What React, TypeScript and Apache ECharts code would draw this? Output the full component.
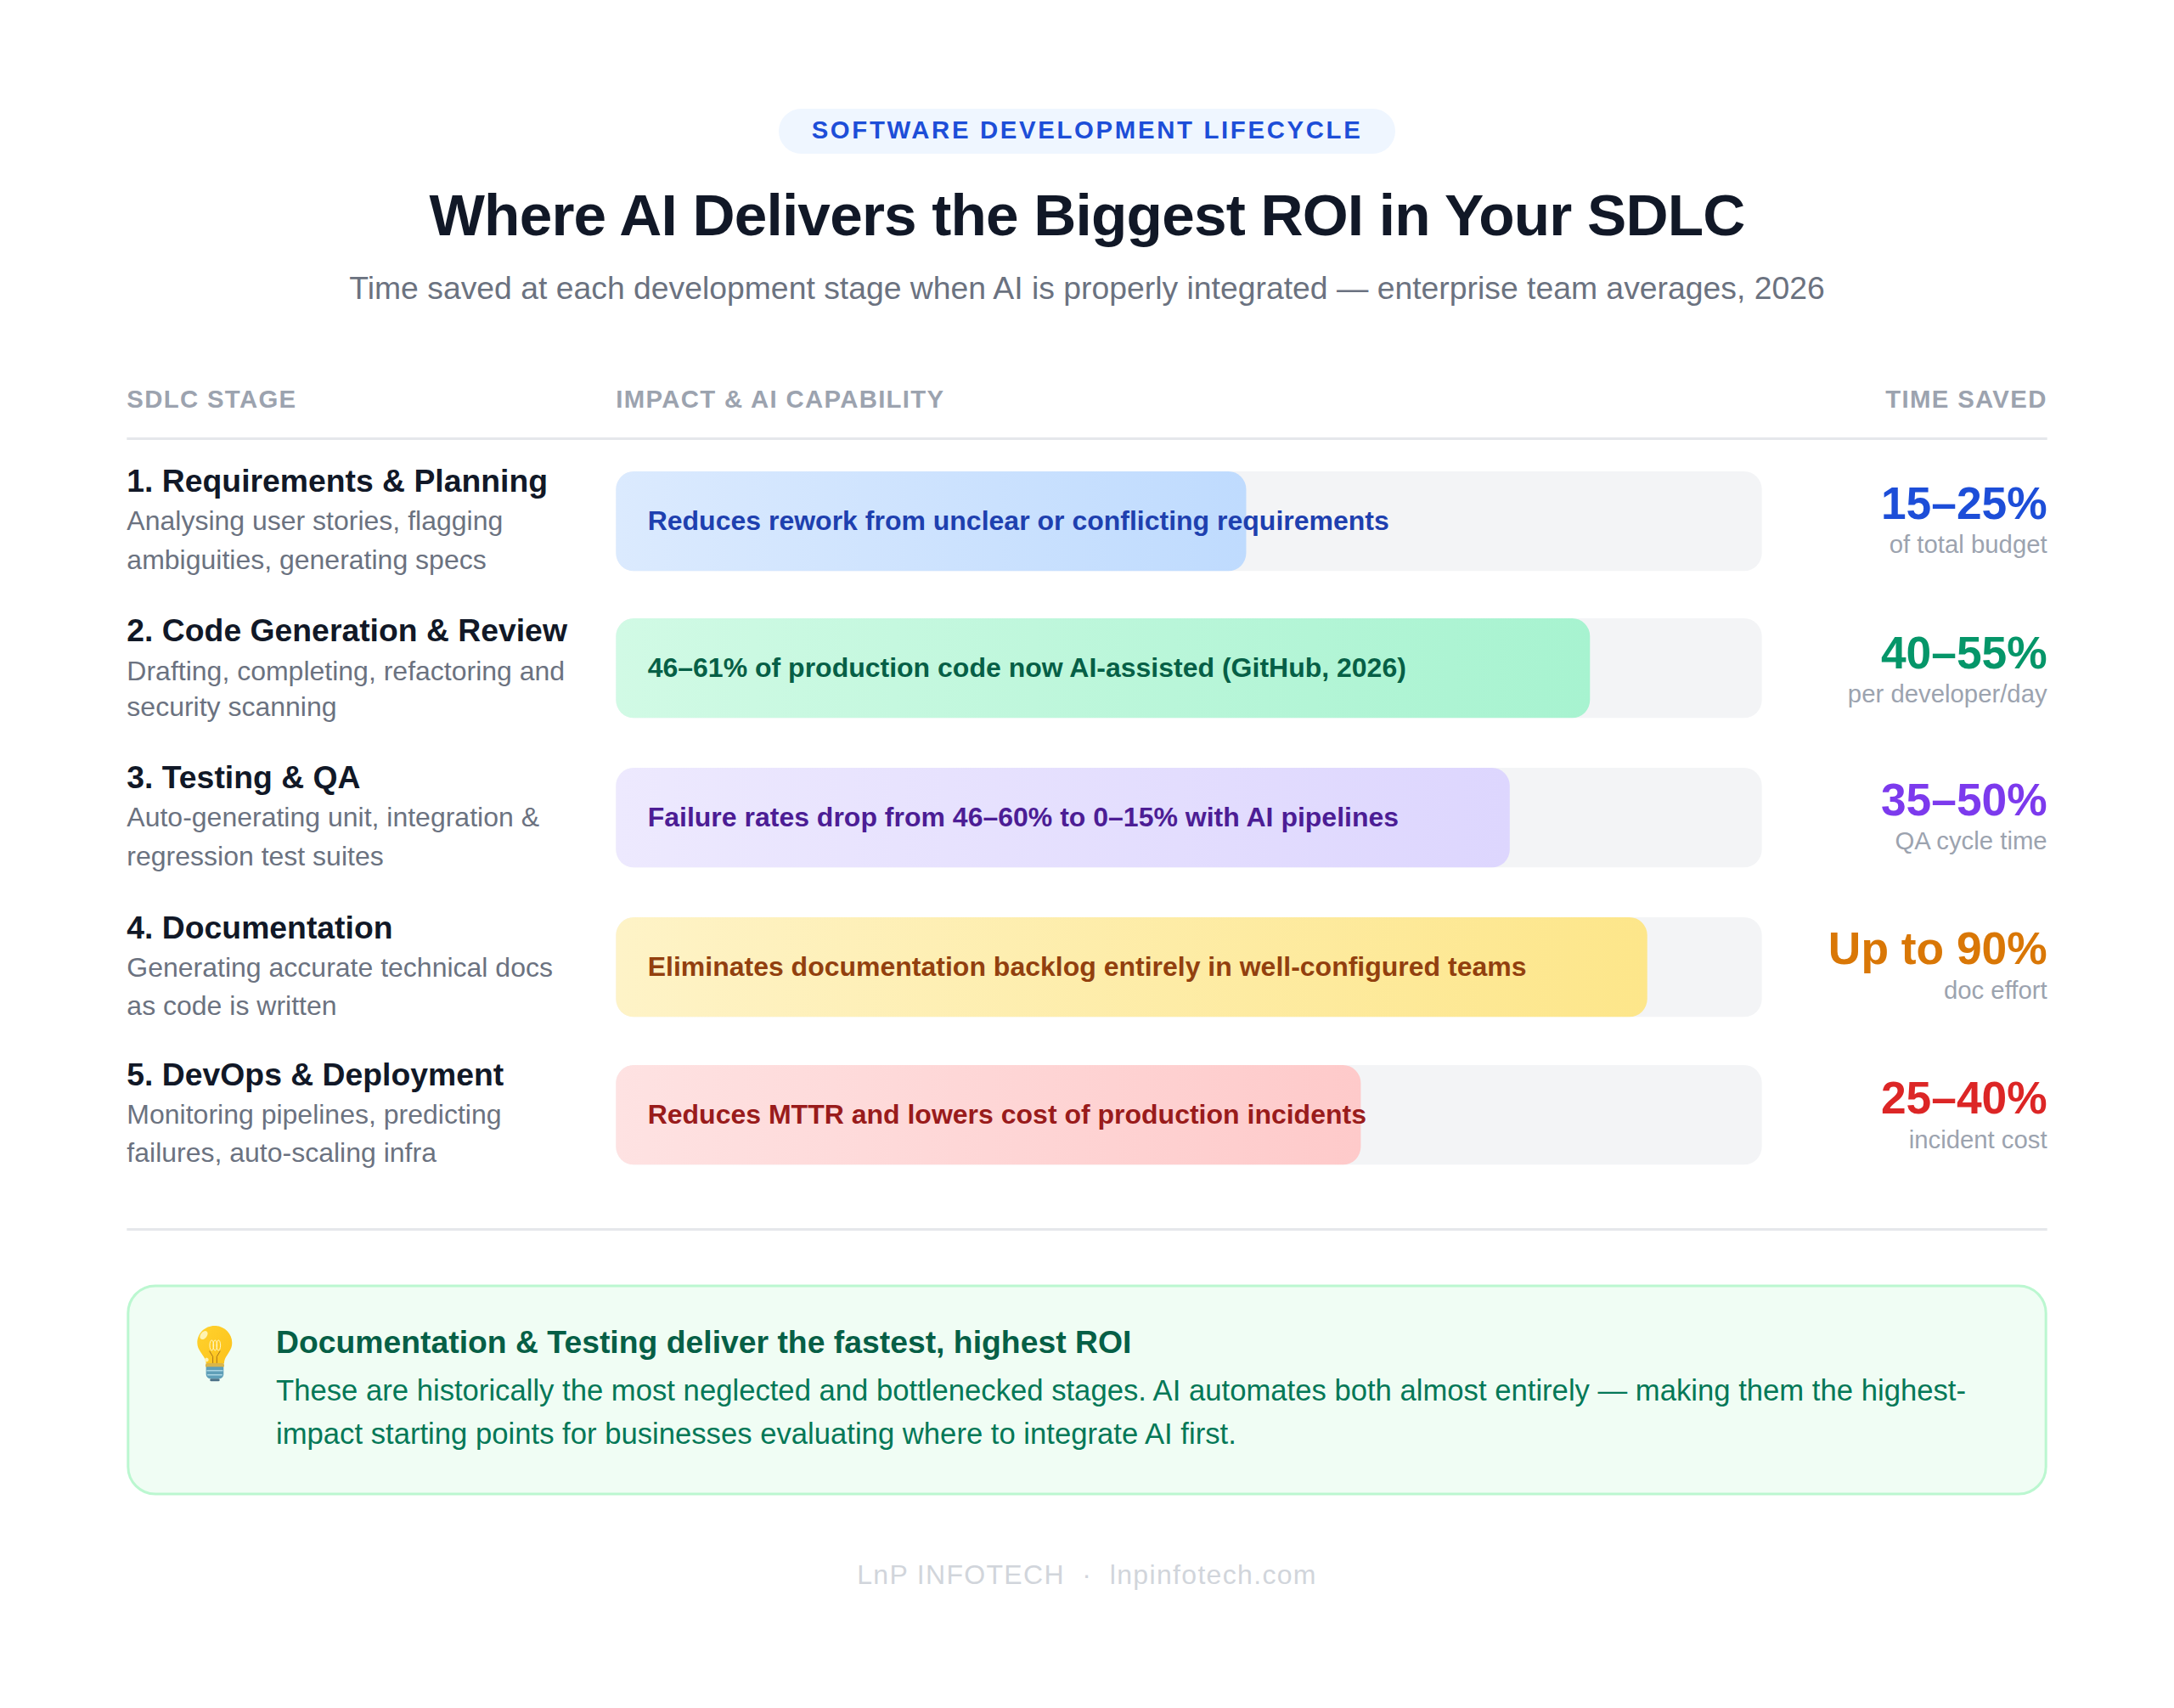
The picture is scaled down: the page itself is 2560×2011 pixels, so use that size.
import { useEffect, useRef } from "react";
import * as echarts from "echarts";

const FONT = '"Liberation Sans", Arial, sans-serif';

const stages = [
  "1. Requirements & Planning",
  "2. Code Generation & Review",
  "3. Testing & QA",
  "4. Documentation",
  "5. DevOps & Deployment",
];
const stageDescriptions = [
  ["Analysing user stories, flagging", "ambiguities, generating specs"],
  ["Drafting, completing, refactoring and", "security scanning"],
  ["Auto-generating unit, integration &", "regression test suites"],
  ["Generating accurate technical docs", "as code is written"],
  ["Monitoring pipelines, predicting", "failures, auto-scaling infra"],
];
const capabilities = [
  "Reduces rework from unclear or conflicting requirements",
  "46–61% of production code now AI-assisted (GitHub, 2026)",
  "Failure rates drop from 46–60% to 0–15% with AI pipelines",
  "Eliminates documentation backlog entirely in well-configured teams",
  "Reduces MTTR and lowers cost of production incidents",
];
const barValues = [55, 85, 78, 90, 65];
const timeSaved = ["15–25%", "40–55%", "35–50%", "Up to 90%", "25–40%"];
const timeSavedUnits = ["of total budget", "per developer/day", "QA cycle time", "doc effort", "incident cost"];

const gradientStart = ["#dbeafe", "#d1fae5", "#ede9fe", "#fef3c7", "#fee2e2"];
const gradientEnd = ["#bfdbfe", "#a7f3d0", "#ddd6fe", "#fde68a", "#fecaca"];
const labelColors = ["#1e40af", "#065f46", "#4c1d95", "#92400e", "#991b1b"];
const valueColors = ["#1d4ed8", "#059669", "#7c3aed", "#d97706", "#dc2626"];

// row geometry
const barTops = [555, 728, 904, 1080, 1254];
const nameY = [566, 742, 915, 1092, 1265];
const descY = [
  [613, 659],
  [790, 832],
  [962, 1008],
  [1139, 1184],
  [1312, 1357],
];
const valueY = [592, 768, 941, 1116, 1292];
const unitY = [640, 816, 989, 1165, 1341];

const LEFT = 149.33;
const RIGHT = 2410.67;
const BAR_LEFT = 725.33;
const BAR_WIDTH = 1349.33;
const BAR_HEIGHT = 117.33;

// zrender text has no letter spacing, it gets set on the svg afterwards
const letterSpacing: Record<string, string> = {
  "SOFTWARE DEVELOPMENT LIFECYCLE": "2.67px",
  "Where AI Delivers the Biggest ROI in Your SDLC": "-0.8px",
  "SDLC STAGE": "1.33px",
  "IMPACT & AI CAPABILITY": "1.33px",
  "TIME SAVED": "1.33px",
  "LnP INFOTECH  ·  lnpinfotech.com": "1.33px",
};

echarts.graphic.registerShape(
  "bulbGlass",
  echarts.graphic.extendPath(
    "M98 33C132 33 160 60 160 93C160 118 143 132 135 150C132 157 132 163 132 167L68 167C68 163 67 157 64 150C56 132 37 118 37 93C37 60 64 33 98 33Z",
    {},
  ),
);

function txt(text: string, x: number, y: number, fontSize: number, fill: string, fontWeight = "normal", align = "left") {
  return {
    type: "text",
    x,
    y,
    silent: true,
    style: { text, fontSize, fontWeight, fill, align, verticalAlign: "middle", fontFamily: FONT },
  };
}

function bulb() {
  return {
    type: "group",
    x: 220,
    y: 1550,
    scaleX: 1 / 3,
    scaleY: 1 / 3,
    silent: true,
    children: [
      {
        type: "bulbGlass",
        style: {
          fill: new echarts.graphic.LinearGradient(0, 0, 1, 1, [
            { offset: 0, color: "#ffd22e" },
            { offset: 1, color: "#fcc21b" },
          ]),
        },
      },
      { type: "ellipse", shape: { cx: 60, cy: 66, rx: 11, ry: 17 }, rotation: -0.7, originX: 60, originY: 66, style: { fill: "#fff3b0" } },
      { type: "circle", shape: { cx: 70, cy: 153, r: 7 }, style: { fill: "#fff3b0" } },
      { type: "polyline", shape: { points: [[80, 122], [92, 142], [92, 165]] }, style: { stroke: "#a8701a", lineWidth: 3, fill: "none" } },
      { type: "polyline", shape: { points: [[118, 122], [106, 142], [106, 165]] }, style: { stroke: "#a8701a", lineWidth: 3, fill: "none" } },
      { type: "ellipse", shape: { cx: 88, cy: 102, rx: 7, ry: 18 }, style: { stroke: "#fff6c8", lineWidth: 3, fill: "none" } },
      { type: "ellipse", shape: { cx: 100, cy: 102, rx: 7, ry: 18 }, style: { stroke: "#fff6c8", lineWidth: 3, fill: "none" } },
      { type: "ellipse", shape: { cx: 112, cy: 102, rx: 7, ry: 18 }, style: { stroke: "#fff6c8", lineWidth: 3, fill: "none" } },
      { type: "rect", shape: { x: 66, y: 165, width: 66, height: 16, r: 6 }, style: { fill: "#d9b54a" } },
      { type: "rect", shape: { x: 68, y: 178, width: 62, height: 42, r: [4, 4, 16, 16] }, style: { fill: "#5f9fb8" } },
      { type: "rect", shape: { x: 70, y: 189, width: 58, height: 5, r: 2 }, style: { fill: "#a9d4e2" } },
      { type: "rect", shape: { x: 72, y: 204, width: 54, height: 5, r: 2 }, style: { fill: "#a9d4e2" } },
      { type: "rect", shape: { x: 82, y: 220, width: 34, height: 9, r: 4 }, style: { fill: "#4a7187" } },
    ],
  };
}

export default function App() {
  const chartRef = useRef<HTMLDivElement | null>(null);

  useEffect(() => {
    if (!chartRef.current) return;
    const chart = echarts.init(chartRef.current, undefined, { renderer: "svg" });

    const rowText: any[] = [];
    stages.forEach((stage, i) => {
      rowText.push(txt(stage, LEFT, nameY[i], 37.33, "#111827", "bold"));
      stageDescriptions[i].forEach((line, j) => {
        rowText.push(txt(line, LEFT, descY[i][j], 32, "#6b7280"));
      });
      rowText.push(txt(timeSaved[i], RIGHT, valueY[i], 53.33, valueColors[i], "bold", "right"));
      rowText.push(txt(timeSavedUnits[i], RIGHT, unitY[i], 29.33, "#9ca3af", "normal", "right"));
    });

    chart.setOption({
      animation: false,
      backgroundColor: "#ffffff",
      grid: barTops.map((top) => ({ left: BAR_LEFT, top, width: BAR_WIDTH, height: BAR_HEIGHT })),
      xAxis: barTops.map((_, i) => ({ type: "value", gridIndex: i, min: 0, max: 100, show: false })),
      yAxis: stages.map((stage, i) => ({ type: "category", gridIndex: i, data: [stage], show: false })),
      series: barValues.map((value, i) => ({
        type: "bar",
        xAxisIndex: i,
        yAxisIndex: i,
        data: [value],
        barWidth: "100%",
        silent: true,
        showBackground: true,
        backgroundStyle: { color: "#f3f4f6", borderRadius: 21 },
        itemStyle: {
          borderRadius: 21,
          color: new echarts.graphic.LinearGradient(0, 0, 1, 0, [
            { offset: 0, color: gradientStart[i] },
            { offset: 1, color: gradientEnd[i] },
          ]),
        },
        label: {
          show: true,
          position: "insideLeft",
          distance: 37.33,
          offset: [0, -1],
          formatter: capabilities[i],
          color: labelColors[i],
          fontSize: 32,
          fontWeight: "bold",
          fontFamily: FONT,
          textBorderWidth: 0,
        },
      })),
      graphic: {
        elements: [
          { type: "rect", shape: { x: 917, y: 128, width: 726, height: 53, r: 26.5 }, style: { fill: "#eff6ff" }, silent: true },
          txt("SOFTWARE DEVELOPMENT LIFECYCLE", 1280, 152, 29.33, "#1d4ed8", "bold", "center"),
          txt("Where AI Delivers the Biggest ROI in Your SDLC", 1280, 253, 69.33, "#111827", "bold", "center"),
          txt("Time saved at each development stage when AI is properly integrated — enterprise team averages, 2026", 1280, 339, 37.33, "#6b7280", "normal", "center"),
          txt("SDLC STAGE", LEFT, 469, 29.33, "#9ca3af", "bold"),
          txt("IMPACT & AI CAPABILITY", BAR_LEFT, 469, 29.33, "#9ca3af", "bold"),
          txt("TIME SAVED", RIGHT, 469, 29.33, "#9ca3af", "bold", "right"),
          { type: "rect", shape: { x: LEFT, y: 515, width: RIGHT - LEFT, height: 3 }, style: { fill: "#e5e7eb" }, silent: true },
          ...rowText,
          { type: "rect", shape: { x: LEFT, y: 1446, width: RIGHT - LEFT, height: 3 }, style: { fill: "#e5e7eb" }, silent: true },
          {
            type: "rect",
            shape: { x: LEFT + 1.5, y: 1514, width: RIGHT - LEFT - 3, height: 245, r: 32 },
            style: { fill: "#f0fdf4", stroke: "#bbf7d0", lineWidth: 3 },
            silent: true,
          },
          bulb(),
          txt("Documentation & Testing deliver the fastest, highest ROI", 325, 1580, 37.33, "#065f46", "bold"),
          txt("These are historically the most neglected and bottlenecked stages. AI automates both almost entirely — making them the highest-", 325, 1637, 34.67, "#047857"),
          txt("impact starting points for businesses evaluating where to integrate AI first.", 325, 1688, 34.67, "#047857"),
          txt("LnP INFOTECH  ·  lnpinfotech.com", 1280, 1854, 32, "#d1d5db", "normal", "center"),
        ],
      },
    });

    chartRef.current.querySelectorAll("text").forEach((node) => {
      const spacing = letterSpacing[node.textContent ?? ""];
      if (spacing) node.style.letterSpacing = spacing;
    });

    return () => {
      chart.dispose();
    };
  }, []);

  return <div ref={chartRef} style={{ position: "absolute", left: 0, top: 0, width: 2560, height: 2011 }} />;
}
